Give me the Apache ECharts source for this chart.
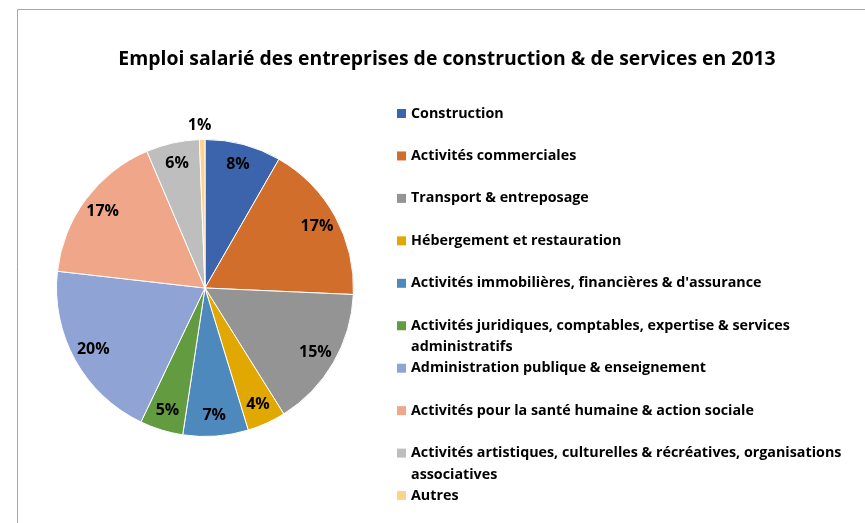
<!DOCTYPE html>
<html lang="fr">
<head>
<meta charset="utf-8">
<title>Emploi salarié 2013</title>
<script src="https://cdn.jsdelivr.net/npm/echarts@6/dist/echarts.min.js"></script>
<style>
  html, body { margin: 0; padding: 0; background: #ffffff; }
  #chart { width: 865px; height: 523px; }
</style>
</head>
<body>
<div id="chart"></div>
<script>
// Secteurs d'activité (ordre des parts, sens horaire depuis midi)
const categories = [
  'Construction',
  'Activités commerciales',
  'Transport & entreposage',
  'Hébergement et restauration',
  "Activités immobilières, financières & d'assurance",
  'Activités juridiques, comptables, expertise & services administratifs',
  'Administration publique & enseignement',
  'Activités pour la santé humaine & action sociale',
  'Activités artistiques, culturelles & récréatives, organisations associatives',
  'Autres'
];

// Part de l'emploi salarié (%)
const shares = [8.3, 17.4, 15.4, 4.2, 7.1, 4.7, 19.7, 16.8, 5.8, 0.6];

const colors = [
  '#3B64AD', '#D26E2B', '#949494', '#E0A800', '#4E89BE',
  '#629B40', '#8FA3D4', '#F0A789', '#BEBEBE', '#FFD28C'
];

const FONT = '"Open Sans", "Noto Sans", sans-serif';
const CX = 205, CY = 288, R = 148.5;
const LINE = 21.5;

// Coupe un libellé de légende trop long en plusieurs lignes
function wrap(text, maxChars) {
  const words = text.split(' ');
  const lines = [];
  let cur = '';
  words.forEach(w => {
    const next = cur ? cur + ' ' + w : w;
    if (next.length > maxChars && cur) { lines.push(cur); cur = w; }
    else cur = next;
  });
  if (cur) lines.push(cur);
  return lines;
}

const pieData = categories.map((name, i) => ({ name, value: shares[i] }));

// Une légende par secteur, sur une grille verticale régulière.
// Le texte est centré sur le carré : pour un libellé sur n lignes,
// on ajoute n-1 lignes vides au-dessus afin que la première ligne
// reste alignée sur le carré.
const legends = categories.map((name, i) => {
  const lines = wrap(name, 64);
  const n = lines.length;
  const padded = new Array(n - 1).fill(' ').concat(lines);
  const centerY = 113.5 + i * 42.45;
  return {
    data: [name],
    orient: 'vertical',
    left: 397,
    top: centerY - LINE * (2 * n - 1) / 2,
    padding: 0,
    itemGap: 0,
    itemWidth: 9,
    itemHeight: 9,
    icon: 'rect',
    itemStyle: { borderWidth: 0 },
    selectedMode: false,
    formatter: () => padded.join('\n'),
    textStyle: {
      fontFamily: FONT,
      fontSize: 14.3,
      fontWeight: 'bold',
      color: '#000000',
      lineHeight: LINE
    }
  };
});

const chart = echarts.init(document.getElementById('chart'), null, { renderer: 'canvas' });

chart.setOption({
  backgroundColor: '#ffffff',
  animation: false,
  color: colors,
  title: {
    text: 'Emploi salarié des entreprises de construction & de services en 2013',
    left: 447,
    top: 50,
    textAlign: 'center',
    padding: 0,
    textStyle: {
      fontFamily: FONT,
      fontSize: 19.4,
      fontWeight: 'bold',
      color: '#000000'
    }
  },
  legend: legends,
  graphic: [{
    type: 'rect',
    silent: true,
    shape: { x: 17.5, y: 9.5, width: 1000, height: 1000 },
    style: { fill: 'none', stroke: '#A6A6A6', lineWidth: 1 }
  }],
  series: [
    {
      // Parts colorées
      type: 'pie',
      center: [CX, CY],
      radius: [0, R],
      startAngle: 90,
      clockwise: true,
      label: { show: false },
      labelLine: { show: false },
      emphasis: { disabled: true },
      itemStyle: { borderColor: '#ffffff', borderWidth: 1 },
      data: pieData
    },
    {
      // Anneau transparent portant les pourcentages
      type: 'pie',
      silent: true,
      center: [CX, CY],
      radius: [R * 0.68, R],
      startAngle: 90,
      clockwise: true,
      itemStyle: { color: 'rgba(0,0,0,0)', borderWidth: 0 },
      emphasis: { disabled: true },
      labelLine: { show: false },
      label: {
        show: true,
        position: 'inside',
        fontFamily: FONT,
        fontSize: 16,
        fontWeight: 'bold',
        color: '#000000',
        formatter: p => Math.round(p.percent) + '%'
      },
      data: pieData.map((d, i) => i === pieData.length - 1
        ? Object.assign({}, d, { label: { offset: [-3, -35] } })
        : d)
    }
  ]
});
</script>
</body>
</html>
